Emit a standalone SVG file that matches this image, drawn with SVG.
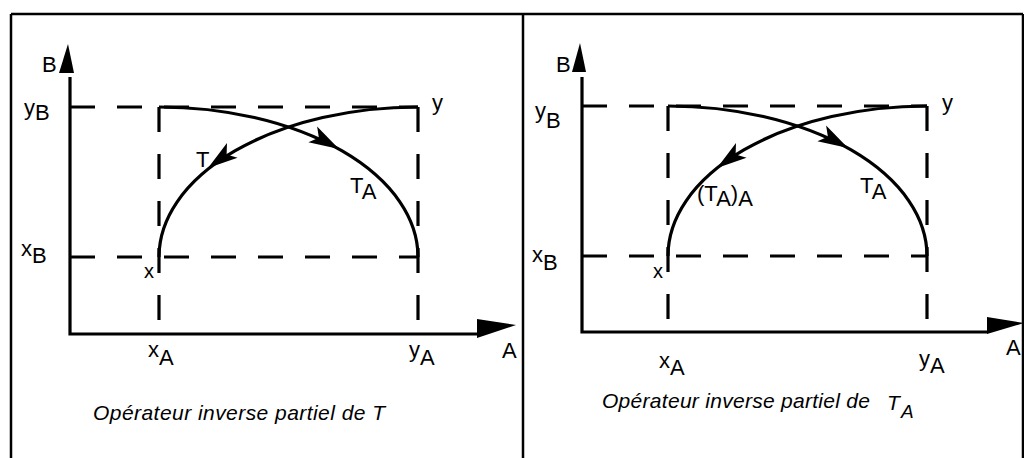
<svg xmlns="http://www.w3.org/2000/svg" width="1024" height="458" viewBox="0 0 1024 458">
<style>
.frame{stroke:#000;stroke-width:2.5;fill:none}
.axis{stroke:#000;stroke-width:3.2;fill:none}
.dash{stroke:#000;stroke-width:3.2;fill:none;stroke-dasharray:25 22}
.curve{stroke:#000;stroke-width:3.2;fill:none}
.head{fill:#000}
text{font-family:"Liberation Sans",Arial,sans-serif;font-size:22px;fill:#000}
.cap{font-style:italic;font-size:21px}
.sm{font-size:20px}
</style>
<defs>
<path id="ah" d="M0,0 L-30,-9 L-23,0 L-30,9 Z"/>
</defs>
<rect width="1024" height="458" fill="#fff"/>
<g id="frame" class="frame">
<path d="M11,14 H1023 M11,14 V458 M523,14 V458 M1023,14 V458"/>
</g>

<g id="panel-left">
<g id="left-axes">
<path class="axis" d="M70,77 V334 H478"/>
<polygon class="head" points="59,73 68,44 74,73"/>
<polygon class="head" points="477,319 516,325 477,338"/>
</g>
<g id="left-guides">
<path class="dash" d="M70,107 H418"/>
<path class="dash" d="M70,257 H418"/>
<path class="dash" d="M159,107 V334"/>
<path class="dash" d="M418,107 V334"/>
</g>
<g id="left-connectors">
<path class="curve" d="M159,107 A259,150 0 0 1 418,257"/>
<path class="curve" d="M159,257 A259,150 0 0 1 418,107"/>
<use href="#ah" class="head" transform="translate(208,168) rotate(144)"/>
<use href="#ah" class="head" transform="translate(339,149) rotate(29)"/>
</g>
<g id="left-labels">
<text x="42" y="72">B</text>
<text x="24" y="115">y<tspan dy="5">B</tspan></text>
<text x="21" y="256">x<tspan dy="7">B</tspan></text>
<text x="144" y="278" class="sm">x</text>
<text x="148" y="357">x<tspan dy="8">A</tspan></text>
<text x="409" y="357">y<tspan dy="8">A</tspan></text>
<text x="502" y="358">A</text>
<text x="432" y="110">y</text>
<text x="196" y="167">T</text>
<text x="350" y="193">T<tspan dy="6">A</tspan></text>
<text x="93" y="420" class="cap" textLength="292" lengthAdjust="spacing">Opérateur inverse partiel de T</text>
</g>
</g>

<g id="panel-right">
<g id="right-axes">
<path class="axis" d="M582,77 V332 H988"/>
<polygon class="head" points="572,72 580,43 586,72"/>
<polygon class="head" points="987,317 1024,323 987,334"/>
</g>
<g id="right-guides">
<path class="dash" d="M582,106 H927"/>
<path class="dash" d="M582,256 H927"/>
<path class="dash" d="M668,106 V332"/>
<path class="dash" d="M927,106 V332"/>
</g>
<g id="right-connectors">
<path class="curve" d="M668,106 A259,150 0 0 1 927,256"/>
<path class="curve" d="M668,256 A259,150 0 0 1 927,106"/>
<use href="#ah" class="head" transform="translate(717,168) rotate(144)"/>
<use href="#ah" class="head" transform="translate(848,148) rotate(29)"/>
</g>
<g id="right-labels">
<text x="556" y="72">B</text>
<text x="535" y="118">y<tspan dy="10">B</tspan></text>
<text x="532" y="262">x<tspan dy="8">B</tspan></text>
<text x="653" y="278" class="sm">x</text>
<text x="659" y="368">x<tspan dy="7">A</tspan></text>
<text x="919" y="366">y<tspan dy="7">A</tspan></text>
<text x="1006" y="355">A</text>
<text x="942" y="110">y</text>
<text x="697" y="201">(T<tspan dy="5">A</tspan><tspan dy="-5">)</tspan><tspan dy="5">A</tspan></text>
<text x="860" y="193">T<tspan dy="6">A</tspan></text>
<text x="602" y="408" class="cap" textLength="268" lengthAdjust="spacing">Opérateur inverse partiel de</text>
<text x="887" y="410" class="cap" style="font-size:21px">T</text>
<text x="901" y="418" class="cap" style="font-size:19px">A</text>
</g>
</g>
</svg>
